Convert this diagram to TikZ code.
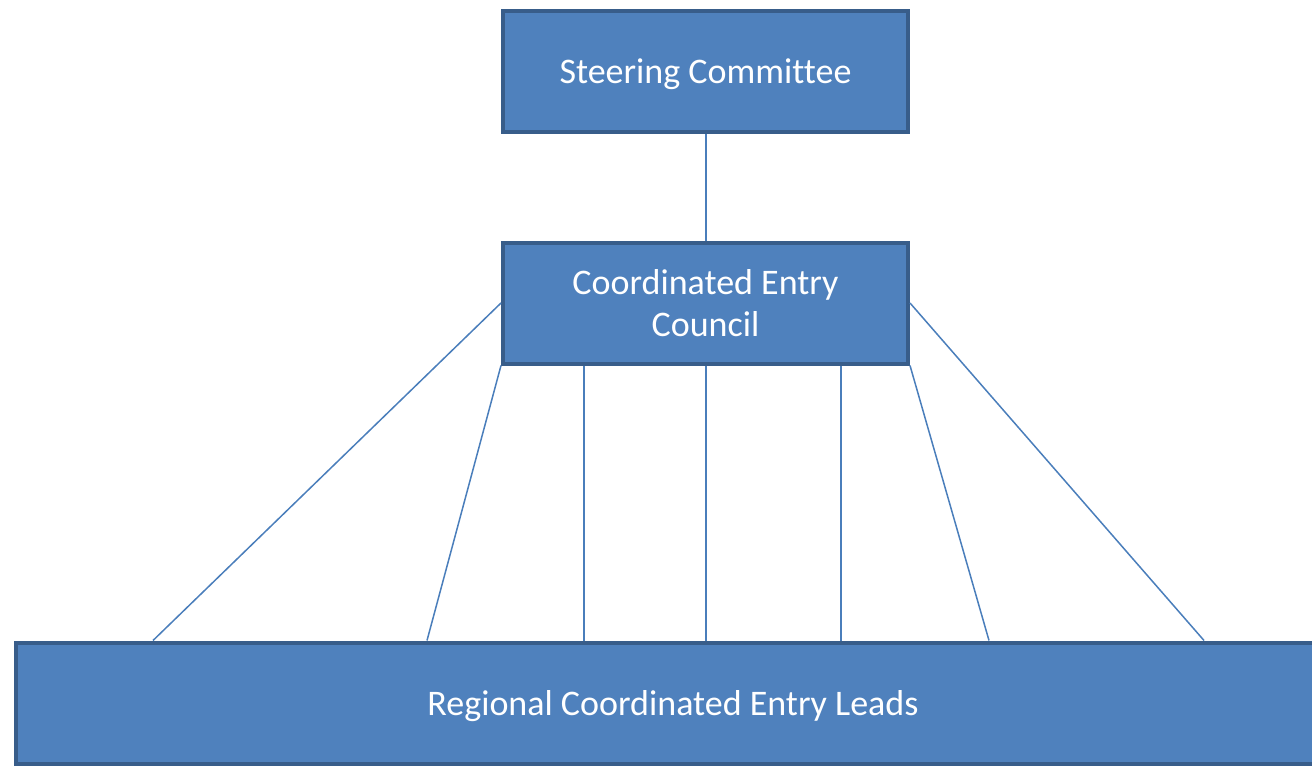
\documentclass[tikz,border=0pt]{standalone}
\usepackage{fontspec}
\setmainfont{Carlito}[Ligatures=NoCommon]
\usepackage{tikz}
\usetikzlibrary{positioning}

\definecolor{boxfill}{HTML}{4F81BD}
\definecolor{boxline}{HTML}{385D8A}
\definecolor{linkline}{HTML}{4A7EBB}

\begin{document}
\begin{tikzpicture}[
  x=1pt, y=-1pt,
  unit/.style={draw=boxline, fill=boxfill, line width=4pt, rectangle,
    minimum width=405pt, minimum height=121pt, align=center, text depth=0pt,
    text=white, font=\fontsize{36}{42}\selectfont},
  link/.style={draw=linkline, line width=1.5pt}
]
\useasboundingbox (0,0) rectangle (1312,766);
\node[unit] (steer) at (705.5,71.5) {Steering Committee};
\node[unit] (council) at (705.5,303) {Coordinated Entry\\Council};
\node[unit, minimum width=1314pt] (leads) at (673,703) {Regional Coordinated Entry Leads};
\draw[link] (steer.south -| 706,0) -- (council.north -| 706,0);
\draw[link] (council.west) -- (leads.north -| 153,0);
\draw[link] (council.south west) -- (leads.north -| 427,0);
\foreach \xx in {584,706,841}
  \draw[link] (council.south -| \xx,0) -- (leads.north -| \xx,0);
\draw[link] (council.south east) -- (leads.north -| 989,0);
\draw[link] (council.east) -- (leads.north -| 1204,0);
\end{tikzpicture}
\end{document}
